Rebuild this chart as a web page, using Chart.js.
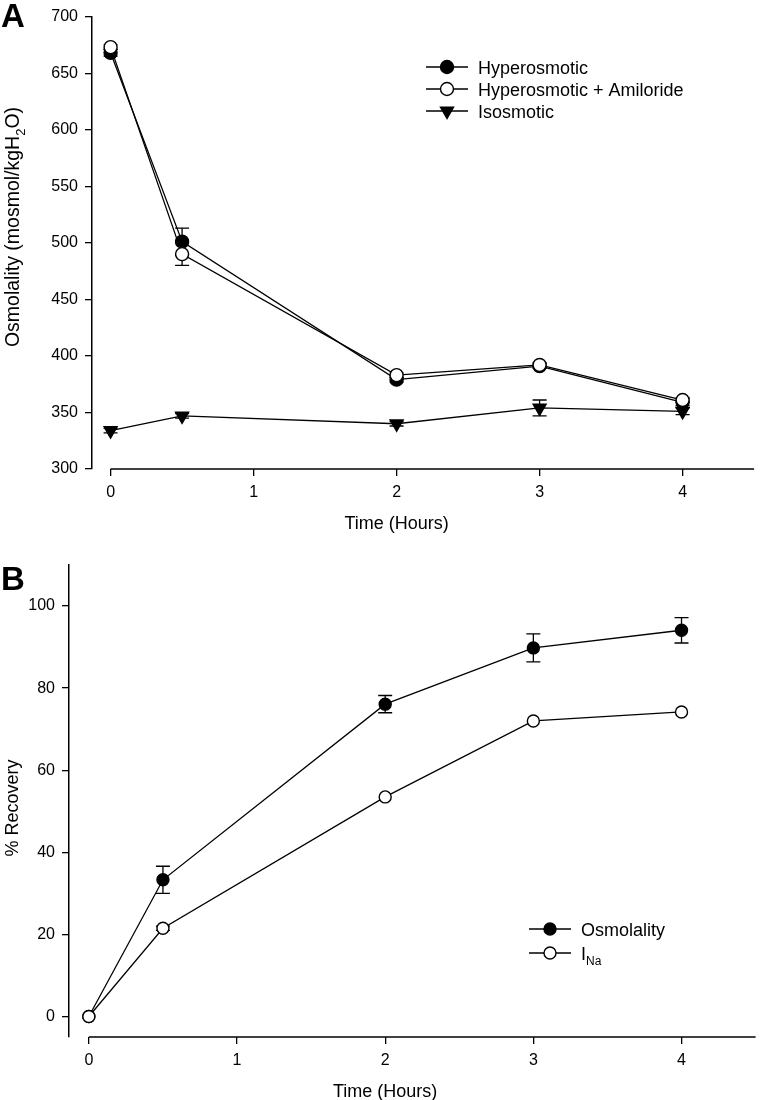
<!DOCTYPE html>
<html>
<head>
<meta charset="utf-8">
<script src="https://cdn.jsdelivr.net/npm/chart.js@4.4.0/dist/chart.umd.min.js"></script>
<style>
  html, body { margin: 0; padding: 0; background: #fff; }
  body { width: 763px; height: 1100px; position: relative; overflow: hidden; }
  .panel { position: absolute; left: 0; width: 763px; }
  #wrapA { top: 0; height: 545px; }
  #wrapB { top: 545px; height: 555px; }
</style>
</head>
<body>
<div class="panel" id="wrapA"><canvas id="chartA" width="763" height="545"></canvas></div>
<div class="panel" id="wrapB"><canvas id="chartB" width="763" height="555"></canvas></div>
<script>
// ---- data ----
const timeHours = [0, 0.5, 2, 3, 4];
const hourTicks = [0, 1, 2, 3, 4];

// panel A: osmolality (mosmol/kgH2O)
const hyperOsm = [668, 501, 379, 391, 359];
const hyperOsmErr = [3, 12, 2, 2, 3];
const amilorideOsm = [673, 490, 383, 392, 361];
const amilorideErr = [2, 10, 2, 2, 2];
const isoOsm = [334, 347, 340, 354, 351];
const isoErr = [2, 2, 2, 7, 3];
const osmTicks = [300, 350, 400, 450, 500, 550, 600, 650, 700];

// panel B: % recovery
const recoveryOsm = [0, 33.3, 76.1, 89.8, 94.1];
const recoveryOsmErr = [0, 3.3, 2.1, 3.4, 3.1];
const recoveryNa = [0, 21.5, 53.5, 72, 74.2];
const recoveryNaErr = [0, 0.5, 0, 0, 0];
const recoveryTicks = [0, 20, 40, 60, 80, 100];

const FONT = "'Liberation Sans', Arial, Helvetica, sans-serif";

function toPoints(ys) {
    return timeHours.map((t, i) => ({ x: t, y: ys[i] }));
}

// draws a marker the same way Chart.js does for circle / rotated triangle
function drawMarker(ctx, style, x, y, r, fill) {
    ctx.beginPath();
    if (style === 'triangle') {
        let rad = Math.PI; // rotated 180deg, pointing down
        for (let k = 0; k < 3; k++) {
            const px = x + Math.sin(rad) * r;
            const py = y - Math.cos(rad) * r;
            if (k === 0) ctx.moveTo(px, py); else ctx.lineTo(px, py);
            rad += 2 * Math.PI / 3;
        }
        ctx.closePath();
    } else {
        ctx.arc(x, y, r, 0, Math.PI * 2);
    }
    ctx.fillStyle = fill;
    ctx.fill();
    ctx.lineWidth = 1.4;
    ctx.strokeStyle = '#000';
    ctx.stroke();
}

// text made of normal and subscript parts
function richWidth(ctx, parts, size) {
    let w = 0;
    parts.forEach(p => {
        ctx.font = (p.sub ? Math.round(size * 0.68) : size) + 'px ' + FONT;
        w += ctx.measureText(p.t).width;
    });
    return w;
}

function drawRich(ctx, parts, x, y, size) {
    let cx = x;
    ctx.textAlign = 'left';
    ctx.textBaseline = 'alphabetic';
    ctx.fillStyle = '#000';
    parts.forEach(p => {
        ctx.font = (p.sub ? Math.round(size * 0.68) : size) + 'px ' + FONT;
        ctx.fillText(p.t, cx, p.sub ? y + size * 0.3 : y);
        cx += ctx.measureText(p.t).width;
    });
}

/**
 * Error bars, axis line, titles, legend and panel letter
 */
const decorPlugin = {
    id: 'decor',
    beforeDatasetsDraw(chart) {
        const ctx = chart.ctx;
        const xs = chart.scales.x, ys = chart.scales.y;
        ctx.save();
        ctx.strokeStyle = '#000';
        ctx.lineWidth = 1.3;
        chart.data.datasets.forEach(ds => {
            if (!ds.errors) return;
            ds.data.forEach((pt, i) => {
                const e = ds.errors[i];
                if (!e) return;
                const x = xs.getPixelForValue(pt.x);
                const yTop = ys.getPixelForValue(pt.y + e);
                const yBot = ys.getPixelForValue(pt.y - e);
                ctx.beginPath();
                ctx.moveTo(x, yTop); ctx.lineTo(x, yBot);
                ctx.moveTo(x - 7, yTop); ctx.lineTo(x + 7, yTop);
                ctx.moveTo(x - 7, yBot); ctx.lineTo(x + 7, yBot);
                ctx.stroke();
            });
        });
        ctx.restore();
    },
    afterDraw(chart, args, opts) {
        const ctx = chart.ctx;
        const xs = chart.scales.x;
        const area = chart.chartArea;
        ctx.save();

        // x axis line starts at the 0 tick
        ctx.strokeStyle = '#000';
        ctx.lineWidth = 1.5;
        ctx.beginPath();
        ctx.moveTo(xs.getPixelForValue(0), area.bottom);
        ctx.lineTo(xs.getPixelForValue(xs.max), area.bottom);
        ctx.stroke();

        // x title
        const xt = [{ t: 'Time (Hours)' }];
        const xw = richWidth(ctx, xt, 18);
        drawRich(ctx, xt, xs.getPixelForValue(2) - xw / 2, area.bottom + 60, 18);

        // y title, rotated
        ctx.save();
        ctx.translate(opts.yTitleX, opts.yTitleY);
        ctx.rotate(-Math.PI / 2);
        const yw = richWidth(ctx, opts.yTitle, opts.yTitleSize);
        drawRich(ctx, opts.yTitle, -yw / 2, 0, opts.yTitleSize);
        ctx.restore();

        // legend
        opts.legend.forEach((item, i) => {
            const y = opts.legendY + i * opts.legendGap;
            ctx.strokeStyle = '#000';
            ctx.lineWidth = 1.3;
            ctx.beginPath();
            ctx.moveTo(opts.legendX, y);
            ctx.lineTo(opts.legendX + 42, y);
            ctx.stroke();
            drawMarker(ctx, item.style, opts.legendX + 21, y, item.r, item.fill);
            drawRich(ctx, item.label, opts.legendX + 52, y + 6.5, 18);
        });

        // panel letter
        ctx.font = 'bold 33px ' + FONT;
        ctx.fillStyle = '#000';
        ctx.textAlign = 'left';
        ctx.textBaseline = 'alphabetic';
        ctx.fillText(opts.letter, 1, opts.letterY);
        ctx.restore();
    }
};

function makeScales(yMin, yMax, yTicks, yWidth, xMin) {
    const tickFont = { family: FONT, size: 16 };
    return {
        x: {
            type: 'linear',
            min: xMin,
            max: 4.5,
            afterBuildTicks: axis => { axis.ticks = hourTicks.map(v => ({ value: v })); },
            afterFit: axis => { axis.height = 60; },
            ticks: { color: '#000', font: tickFont, padding: 7, autoSkip: false, maxRotation: 0 },
            grid: { display: true, drawOnChartArea: false, drawTicks: true, tickLength: 7, color: '#000', lineWidth: 1.3 },
            border: { display: false }
        },
        y: {
            type: 'linear',
            min: yMin,
            max: yMax,
            afterBuildTicks: axis => { axis.ticks = yTicks.map(v => ({ value: v })); },
            afterFit: axis => { axis.width = yWidth; },
            ticks: { color: '#000', font: tickFont, padding: 7, autoSkip: false },
            grid: { display: true, drawOnChartArea: false, drawTicks: true, tickLength: 7, color: '#000', lineWidth: 1.3 },
            border: { display: true, color: '#000', width: 1.5 }
        }
    };
}

function lineSet(label, ys, errs, style, fill, r, order) {
    return {
        label: label,
        data: toPoints(ys),
        errors: errs,
        borderColor: '#000',
        borderWidth: 1.3,
        backgroundColor: fill,
        pointStyle: style,
        pointRotation: style === 'triangle' ? 180 : 0,
        pointRadius: r,
        pointBackgroundColor: fill,
        pointBorderColor: '#000',
        pointBorderWidth: 1.4,
        tension: 0,
        fill: false,
        clip: false,
        order: order
    };
}

// ---- panel A ----
new Chart(document.getElementById('chartA'), {
    type: 'line',
    data: {
        datasets: [
            lineSet('Hyperosmotic + Amiloride', amilorideOsm, amilorideErr, 'circle', '#fff', 6.5, 0),
            lineSet('Hyperosmotic', hyperOsm, hyperOsmErr, 'circle', '#000', 6.5, 1),
            lineSet('Isosmotic', isoOsm, isoErr, 'triangle', '#000', 7.5, 2)
        ]
    },
    options: {
        responsive: false,
        animation: false,
        devicePixelRatio: 1,
        events: [],
        layout: { padding: { top: 13, left: 0, right: 0, bottom: 16 } },
        scales: makeScales(300, 700, osmTicks, 92, -0.13),
        plugins: {
            legend: { display: false },
            tooltip: { enabled: false },
            decor: {
                letter: 'A',
                letterY: 27,
                yTitleX: 19,
                yTitleY: 227,
                yTitleSize: 19.5,
                yTitle: [{ t: 'Osmolality (mosmol/kgH' }, { t: '2', sub: true }, { t: 'O)' }],
                legendX: 426,
                legendY: 67,
                legendGap: 22,
                legend: [
                    { label: [{ t: 'Hyperosmotic' }], style: 'circle', fill: '#000', r: 6.5 },
                    { label: [{ t: 'Hyperosmotic + Amiloride' }], style: 'circle', fill: '#fff', r: 6.5 },
                    { label: [{ t: 'Isosmotic' }], style: 'triangle', fill: '#000', r: 7.5 }
                ]
            }
        }
    },
    plugins: [decorPlugin]
});

// ---- panel B ----
new Chart(document.getElementById('chartB'), {
    type: 'line',
    data: {
        datasets: [
            lineSet('Osmolality', recoveryOsm, recoveryOsmErr, 'circle', '#000', 6, 1),
            lineSet('INa', recoveryNa, recoveryNaErr, 'circle', '#fff', 6, 0)
        ]
    },
    options: {
        responsive: false,
        animation: false,
        devicePixelRatio: 1,
        events: [],
        layout: { padding: { top: 20, left: 0, right: 0, bottom: 3 } },
        scales: makeScales(-5, 110, recoveryTicks, 69, -0.134),
        plugins: {
            legend: { display: false },
            tooltip: { enabled: false },
            decor: {
                letter: 'B',
                letterY: 45,
                yTitleX: 18,
                yTitleY: 263,
                yTitleSize: 18,
                yTitle: [{ t: '% Recovery' }],
                legendX: 529,
                legendY: 384,
                legendGap: 24,
                legend: [
                    { label: [{ t: 'Osmolality' }], style: 'circle', fill: '#000', r: 6 },
                    { label: [{ t: 'I' }, { t: 'Na', sub: true }], style: 'circle', fill: '#fff', r: 6 }
                ]
            }
        }
    },
    plugins: [decorPlugin]
});
</script>
</body>
</html>
